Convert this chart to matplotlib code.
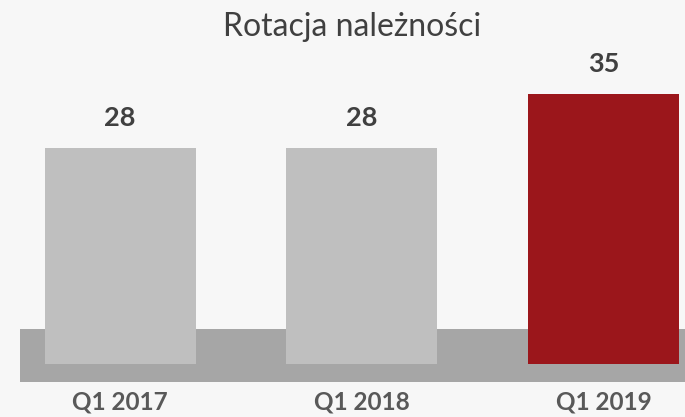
import matplotlib.pyplot as plt
from matplotlib.patches import Rectangle

plt.rcParams['font.family'] = ['Lato', 'DejaVu Sans']

categories = ['Q1 2017', 'Q1 2018', 'Q1 2019']
values = [28, 28, 35]
colors = ['#bfbfbf', '#bfbfbf', '#9b161b']

fig = plt.figure(figsize=(6.85, 4.17), dpi=100, facecolor='#f7f7f7')
ax = fig.add_axes([0, 0, 1, 1])
ax.set_facecolor('#f7f7f7')

x = list(range(len(categories)))
ax.set_xlim(-0.496, 2.335)
ax.set_ylim(-6.87, 47.2)

# podloga (ciemniejszy pas pod slupkami)
ax.add_patch(Rectangle((-0.413, -2.3), 3.0, 6.8, color='#a6a6a6', zorder=1, lw=0))

bars = ax.bar(x, values, width=0.624, color=colors, zorder=2)

for xi, v in zip(x, values):
    ax.text(xi, v + 3.9, str(v), ha='center', va='center', fontsize=19.5,
            fontweight='bold', color='#404040')

for xi, c in zip(x, categories):
    ax.text(xi, -4.95, c, ha='center', va='center', fontsize=17.5,
            fontweight='bold', color='#595959')

fig.text(0.514, 0.935, 'Rotacja należności', ha='center', va='center',
         fontsize=23, color='#404040')

ax.axis('off')
fig.savefig('out.png', dpi=100, facecolor=fig.get_facecolor())
